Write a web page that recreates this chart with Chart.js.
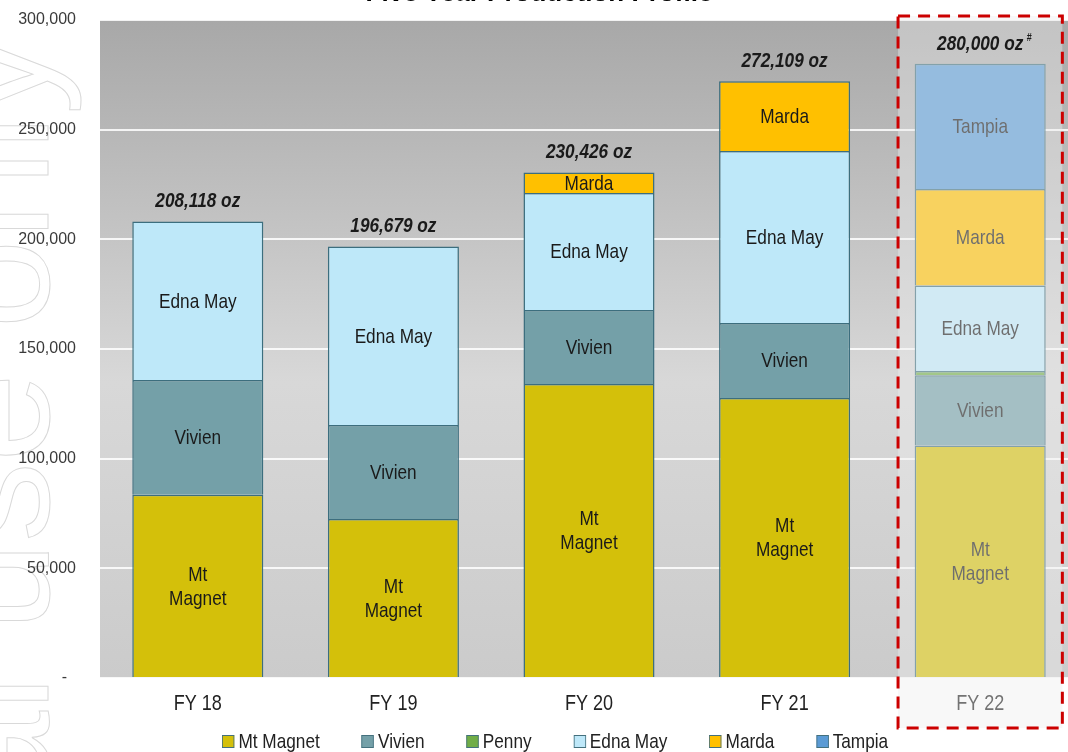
<!DOCTYPE html>
<html>
<head>
<meta charset="utf-8">
<script src="https://cdn.jsdelivr.net/npm/chart.js@4.4.1/dist/chart.umd.min.js"></script>
<style>
  html, body { margin: 0; padding: 0; background: #fff; overflow: hidden; }
  body { width: 1068px; height: 752px; position: relative; }
  #wrap { position: absolute; left: 0; top: -30px; width: 1080px; height: 782px; }
  /* the reference uses a narrow face; squeeze regular Arial metrics to match */
  #legend {
    position: absolute; left: 222px; top: 730px; display: flex; gap: 51px;
    transform: scaleX(0.82); transform-origin: 0 0; white-space: nowrap;
    font-family: 'Liberation Sans', Arial, sans-serif;
    font-size: 21px; line-height: 22px; color: #222;
  }
  #legend .item { display: flex; align-items: center; }
  #legend .box { width: 13px; height: 11px; border: 1px solid #44707d; margin-right: 5px; }
</style>
</head>
<body>
<div id="wrap"><canvas id="productionChart" width="1080" height="782"></canvas></div>
<div id="legend"></div>
<script>
// Five year production profile (oz)
const categories = ['FY 18', 'FY 19', 'FY 20', 'FY 21', 'FY 22'];
const mtMagnet = [83500, 72500, 134000, 127700, 106000];
const vivien   = [52400, 42850, 33800, 34200, 32000];
const penny    = [null, null, null, null, 2000];
const ednaMay  = [72218, 81329, 53300, 78400, 39000];
const marda    = [null, null, 9326, 31809, 44000];
const tampia   = [null, null, null, null, 57000];
const yTicks = [0, 50000, 100000, 150000, 200000, 250000, 300000];
const guidanceIndex = 4; // FY 22 is guidance, boxed and greyed

const sans = "'Liberation Sans', Arial, sans-serif";
const SQUEEZE = 0.82;

const datasets = [
  { label: 'Mt Magnet', data: mtMagnet, backgroundColor: '#d4c00a', inBarText: ['Mt', 'Magnet'] },
  { label: 'Vivien', data: vivien, backgroundColor: '#74a0a8', inBarText: ['Vivien'] },
  { label: 'Penny', data: penny, backgroundColor: '#70ad47' },
  { label: 'Edna May', data: ednaMay, backgroundColor: '#bee8f9', inBarText: ['Edna May'] },
  { label: 'Marda', data: marda, backgroundColor: '#ffc000', inBarText: ['Marda'] },
  { label: 'Tampia', data: tampia, backgroundColor: '#5b9bd5', inBarText: ['Tampia'] }
];
datasets.forEach(ds => {
  ds.borderColor = '#3c6e7e';
  ds.borderWidth = 1.5;
  ds.categoryPercentage = 1;
  ds.barPercentage = 0.67;
});

function totalFor(i) {
  return datasets.reduce((s, ds) => s + (ds.data[i] || 0), 0);
}

// text squeezed horizontally so it looks like Arial Narrow
function narrowText(ctx, text, x, y) {
  ctx.save();
  ctx.translate(x, y);
  ctx.scale(SQUEEZE, 1);
  ctx.fillText(text, 0, 0);
  ctx.restore();
}

// background gradient + faint watermark
const backdrop = {
  id: 'backdrop',
  beforeDraw(chart) {
    const ctx = chart.ctx;
    const a = chart.chartArea;
    ctx.save();
    ctx.translate(48, 65);
    ctx.rotate(-Math.PI / 2);
    ctx.font = '160px ' + sans;
    ctx.textAlign = 'right';
    ctx.strokeStyle = '#d9d9d9';
    ctx.lineWidth = 1;
    ctx.strokeText('For personal use only', 0, 0);
    ctx.restore();

    ctx.save();
    const g = ctx.createLinearGradient(0, a.top, 0, a.bottom);
    g.addColorStop(0, '#a8a8a8');
    g.addColorStop(0.55, '#d8d8d8');
    g.addColorStop(1, '#cbcbcb');
    ctx.fillStyle = g;
    ctx.fillRect(a.left, a.top, chart.width - a.left, a.bottom - a.top);
    ctx.restore();
  }
};

// names inside each bar segment, and the category labels under the axis
const segLabels = {
  id: 'segLabels',
  afterDatasetsDraw(chart) {
    const ctx = chart.ctx;
    const a = chart.chartArea;
    ctx.save();
    ctx.font = '21px ' + sans;
    ctx.fillStyle = '#1a1a1a';
    ctx.textAlign = 'center';
    ctx.textBaseline = 'middle';
    chart.data.datasets.forEach((ds, di) => {
      if (!ds.inBarText) return;
      const meta = chart.getDatasetMeta(di);
      meta.data.forEach((bar, i) => {
        if (ds.data[i] == null) return;
        if (Math.abs(bar.base - bar.y) < 15) return;
        const cy = (bar.y + bar.base) / 2;
        const n = ds.inBarText.length;
        ds.inBarText.forEach((t, k) => {
          narrowText(ctx, t, bar.x, cy + (k - (n - 1) / 2) * 24 + 1);
        });
      });
    });

    ctx.font = '22px ' + sans;
    ctx.fillStyle = '#222';
    categories.forEach((c, i) => {
      narrowText(ctx, c, chart.scales.x.getPixelForValue(i), a.bottom + 26);
    });
    ctx.restore();
  }
};

// grey-out + dashed box on the guidance year, then the totals on top
const guidanceAndTotals = {
  id: 'guidanceAndTotals',
  afterDraw(chart) {
    const ctx = chart.ctx;
    const a = chart.chartArea;
    const xs = chart.scales.x;
    const ys = chart.scales.y;
    const catW = (a.right - a.left) / categories.length;
    const cx = xs.getPixelForValue(guidanceIndex);
    const left = cx - 0.42 * catW, right = cx + 0.42 * catW;
    const top = a.top - 4, bottom = a.bottom + 50;

    ctx.save();
    ctx.fillStyle = 'rgba(237,237,237,0.4)';
    ctx.fillRect(left, top, right - left, bottom - top);
    ctx.strokeStyle = '#cc0000';
    ctx.lineWidth = 3;
    ctx.setLineDash([12, 8]);
    ctx.strokeRect(left, top, right - left, bottom - top);
    ctx.restore();

    ctx.save();
    ctx.fillStyle = '#1a1a1a';
    ctx.textAlign = 'center';
    ctx.textBaseline = 'middle';
    categories.forEach((c, i) => {
      const total = totalFor(i);
      const x = xs.getPixelForValue(i);
      const y = ys.getPixelForValue(total) - 20;
      const text = total.toLocaleString('en-US') + ' oz';
      ctx.font = 'italic bold 21px ' + sans;
      narrowText(ctx, text, x, y);
      if (i === guidanceIndex) {
        const w = ctx.measureText(text).width * SQUEEZE;
        ctx.font = 'bold 11px ' + sans;
        narrowText(ctx, '#', x + w / 2 + 6, y - 6);
      }
    });
    ctx.restore();
  }
};

new Chart(document.getElementById('productionChart'), {
  type: 'bar',
  data: { labels: categories, datasets: datasets },
  options: {
    responsive: false,
    animation: false,
    devicePixelRatio: 1,
    layout: { padding: { left: 0, right: 2, top: 0, bottom: 34 } },
    plugins: {
      legend: { display: false },
      tooltip: { enabled: false },
      title: {
        display: true,
        text: 'Five Year Production Profile',
        color: '#000',
        font: { family: sans, size: 26, weight: 'bold' },
        padding: { top: 8, bottom: 10.8 }
      }
    },
    scales: {
      x: {
        stacked: true,
        afterFit: s => { s.height = 40; },
        grid: { display: false },
        border: { display: false },
        ticks: { display: false }
      },
      y: {
        stacked: true,
        min: 0,
        max: 300000,
        afterBuildTicks: s => { s.ticks = yTicks.map(v => ({ value: v })); },
        afterFit: s => { s.width = 100; },
        grid: { color: 'rgba(255,255,255,0.85)', lineWidth: 2, drawTicks: false },
        border: { display: false },
        ticks: {
          padding: 24,
          color: '#3a3a3a',
          font: { family: sans, size: 16 },
          callback: v => v === 0 ? '-  ' : v.toLocaleString('en-US')
        }
      }
    }
  },
  plugins: [backdrop, segLabels, guidanceAndTotals]
});

// legend built from the same datasets
const legendEl = document.getElementById('legend');
datasets.forEach(ds => {
  const item = document.createElement('div');
  item.className = 'item';
  const box = document.createElement('span');
  box.className = 'box';
  box.style.background = ds.backgroundColor;
  item.appendChild(box);
  item.appendChild(document.createTextNode(ds.label));
  legendEl.appendChild(item);
});
</script>
</body>
</html>
